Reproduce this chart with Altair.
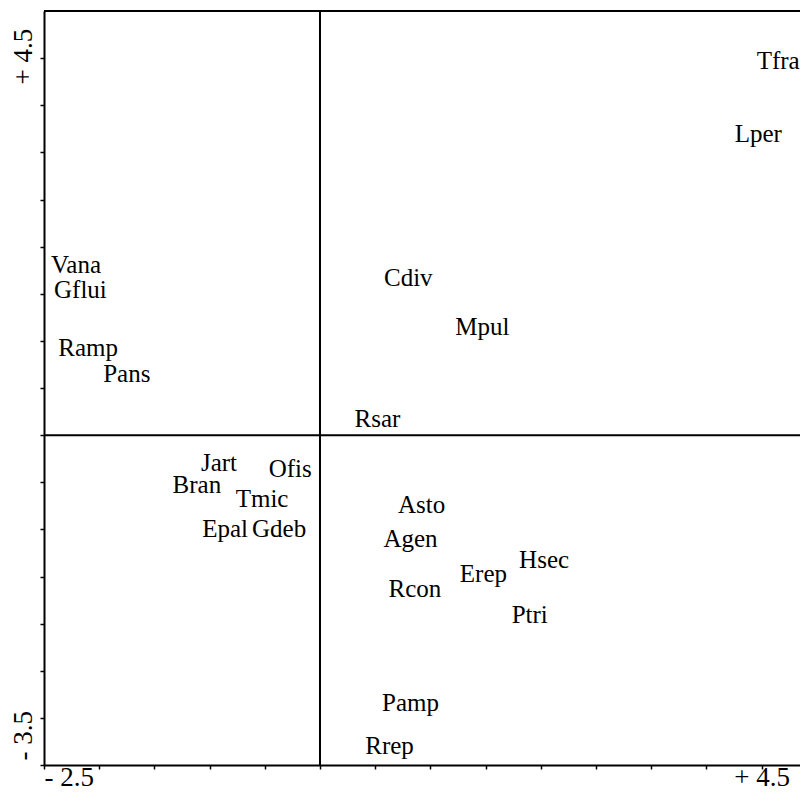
import altair as alt
import pandas as pd

labels = ["Tfra", "Lper", "Vana", "Gflui", "Ramp", "Pans", "Cdiv", "Mpul", "Rsar",
          "Jart", "Bran", "Ofis", "Tmic", "Epal", "Gdeb", "Asto", "Agen", "Hsec",
          "Erep", "Rcon", "Ptri", "Pamp", "Rrep"]
xs = [4.15, 3.97, -2.21, -2.17, -2.10, -1.75, 0.80, 1.47, 0.52,
      -0.915, -1.115, -0.27, -0.525, -0.86, -0.37, 0.92, 0.82, 2.03,
      1.48, 0.86, 1.90, 0.82, 0.63]
ys = [3.97, 3.20, 1.81, 1.54, 0.92, 0.65, 1.67, 1.15, 0.17,
      -0.30, -0.53, -0.355, -0.675, -0.995, -0.995, -0.74, -1.10, -1.33,
      -1.47, -1.63, -1.91, -2.84, -3.30]

x_ticks = [-2.5, -2.0, -1.5, -1.0, -0.5, 0.0, 0.5, 1.0, 1.5, 2.0, 2.5, 3.0, 3.5, 4.0]
y_ticks = [-3.5, -3.0, -2.5, -2.0, -1.5, -1.0, -0.5, 0.0, 0.5, 1.0, 1.5, 2.0, 2.5, 3.0, 3.5, 4.0]
x_domain = [-2.5, 4.348]
y_domain = [-3.5, 4.5]

df = pd.DataFrame({"label": labels, "x": xs, "y": ys})

FONT = "Liberation Serif"

xscale = alt.Scale(domain=x_domain, nice=False, zero=False)
yscale = alt.Scale(domain=y_domain, nice=False, zero=False)

xaxis = alt.Axis(
    values=x_ticks, title=None, grid=False,
    labelExpr="datum.value == -2.5 ? '- 2.5' : (datum.value == 4 ? '+ 4.5' : '')",
    labelAlign={"condition": {"test": "datum.value == -2.5", "value": "left"}, "value": "center"},
    labelFlush=False, labelOverlap=False, labelBaseline="alphabetic", labelPadding=16,
    labelFont=FONT, labelFontSize=27, labelColor="black",
    domainColor="black", domainWidth=2, tickColor="black", tickSize=4, tickWidth=1.5,
)
yaxis = alt.Axis(
    values=y_ticks, title=None, grid=False,
    labelExpr="datum.value == -3.5 ? '- 3.5' : (datum.value == 4 ? '+ 4.5' : '')",
    labelAngle=270,
    labelAlign={"condition": {"test": "datum.value == -3.5", "value": "left"}, "value": "center"},
    labelOffset={"condition": {"test": "datum.value == -3.5", "value": -5}, "value": -2},
    labelFlush=False, labelOverlap=False, labelBaseline="alphabetic", labelPadding=9,
    labelFont=FONT, labelFontSize=27, labelColor="black",
    domainColor="black", domainWidth=2, tickColor="black", tickSize=4, tickWidth=1.5,
)

text = alt.Chart(df).mark_text(
    font=FONT, fontSize=25, color="black", align="center", baseline="middle"
).encode(
    x=alt.X("x:Q", scale=xscale, axis=xaxis),
    y=alt.Y("y:Q", scale=yscale, axis=yaxis),
    text="label:N",
)

vline = alt.Chart(pd.DataFrame({"x": [0.0]})).mark_rule(color="black", strokeWidth=2).encode(
    x=alt.X("x:Q", scale=xscale)
)
hline = alt.Chart(pd.DataFrame({"y": [0.0, y_domain[1]]})).mark_rule(color="black", strokeWidth=2).encode(
    y=alt.Y("y:Q", scale=yscale)
)

chart = alt.layer(vline, hline, text).properties(
    width=756, height=754,
    autosize=alt.AutoSizeParams(type="none"),
    padding={"left": 36, "top": 3, "right": 0, "bottom": 24},
).configure_view(stroke=None).configure(background="white")

chart.save("out.html", embed_options={"renderer": "svg", "actions": False})
